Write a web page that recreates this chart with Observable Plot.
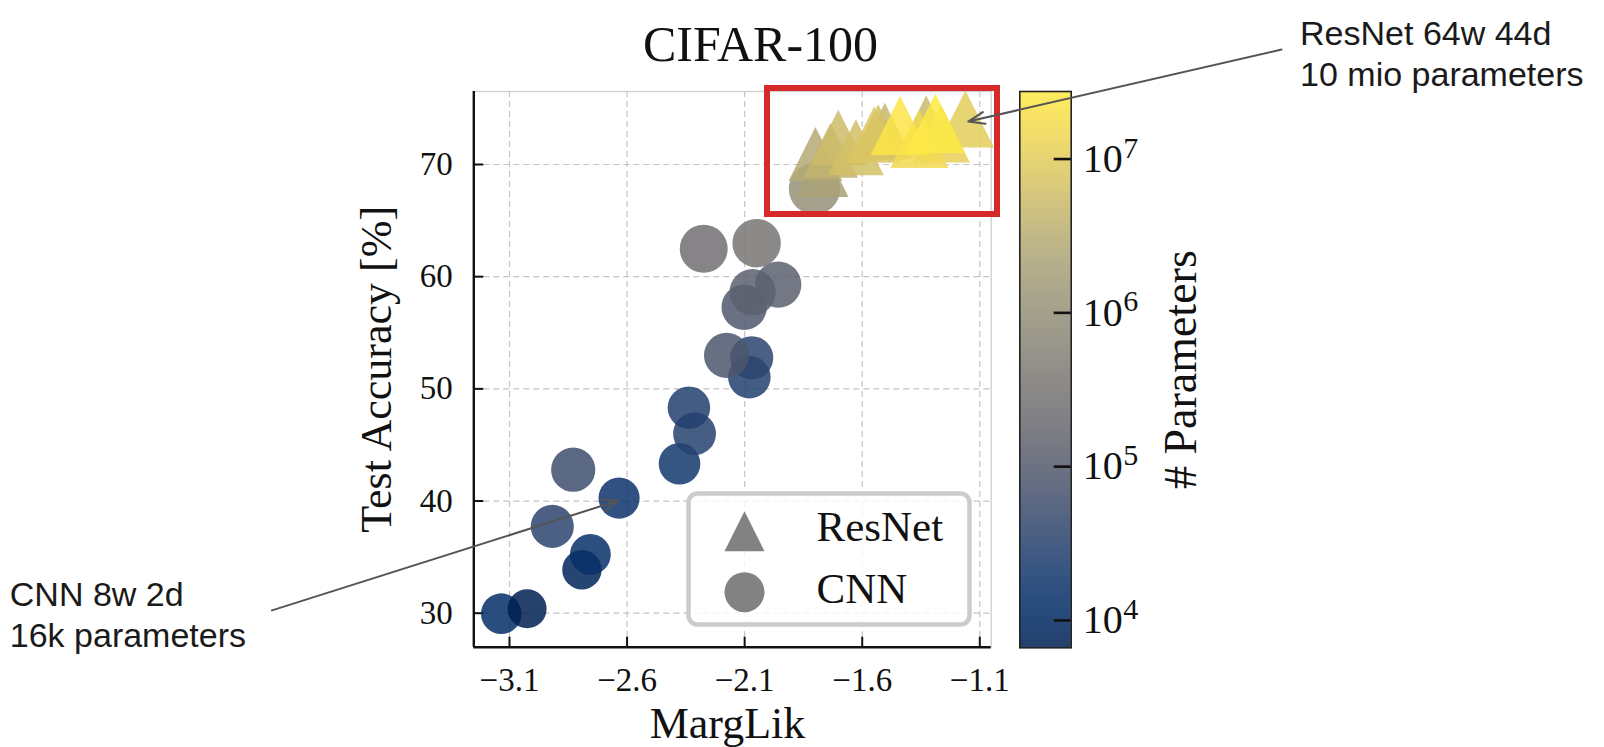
<!DOCTYPE html>
<html><head><meta charset="utf-8">
<script src="https://cdn.jsdelivr.net/npm/d3@7"></script>
<script src="https://cdn.jsdelivr.net/npm/@observablehq/plot@0.6"></script>
<style>
html,body{margin:0;padding:0;background:#fff;}
#wrap{position:relative;width:1604px;height:747px;overflow:hidden;background:#fff;}
#wrap svg{position:absolute;left:0;top:0;}
</style></head><body><div id="wrap"></div>
<script>
// ---- data ----
const cnnMargLik  = [-3.135,-3.025,-2.792,-2.756,-2.918,-2.634,-2.829,-2.377,-2.313,-2.337,-2.080,-2.070,-2.177,-2.102,-2.066,-1.957,-2.274,-2.049,-1.803];
const cnnAccuracy = [29.96,30.40,33.88,35.24,37.74,40.26,42.79,43.32,46.00,48.32,51.04,52.77,52.98,57.28,58.62,59.30,62.49,62.99,67.83];
const cnnParams   = [12600,6640,7900,14100,35500,16000,56200,19000,31600,28200,28200,35500,79400,89100,126000,126000,251000,316000,1000000];

const resnetMargLik  = [-1.771,-1.799,-1.735,-1.702,-1.627,-1.504,-1.532,-1.549,-1.328,-1.357,-1.264,-1.439,-1.289,-1.161];
const resnetAccuracy = [69.47,70.94,71.25,72.41,71.54,73.03,72.88,72.67,73.68,72.29,72.73,73.48,73.68,74.05];
const resnetParams   = [2000000,2800000,4000000,5600000,6300000,5000000,6300000,7900000,5000000,15800000,11200000,22400000,27500000,10000000];

const xTicks = [-3.1,-2.6,-2.1,-1.6,-1.1];
const yTicks = [30,40,50,60,70];
const cbTicks = [1e4,1e5,1e6,1e7];
const xDomain = [-3.2518,-1.0515];
const yDomain = [26.969,76.508];
const paramDomain = [6640,2.75e7];
const legendLabels = ["ResNet","CNN"];
const titleText = "CIFAR-100";
const xLabel = "MargLik";
const yLabel = "Test Accuracy [%]";
const cbLabel = "# Parameters";
const highlight = [{x1:-2.0028,x2:-1.0247,y1:65.543,y2:76.775}];
const callouts = [
  {text:"ResNet 64w 44d\n10 mio parameters", tx:0.262, ty:83.28, x1:0.183, y1:80.25, x2:-1.149, y2:73.83},
  {text:"CNN 8w 2d\n16k parameters", tx:-5.225, ty:33.28, x1:-4.110, y1:30.25, x2:-2.635, y2:40.05}
];

const cnn = cnnMargLik.map((x,i)=>({x, y:cnnAccuracy[i], p:cnnParams[i]}));
const resnet = resnetMargLik.map((x,i)=>({x, y:resnetAccuracy[i], p:resnetParams[i]}));

// matplotlib-like "^" marker: width = height = marker size
const mplTriangle = {draw(ctx, size){ const r=Math.sqrt(size/Math.PI); ctx.moveTo(0,-r); ctx.lineTo(r,r); ctx.lineTo(-r,r); ctx.closePath(); }};
const fmt = d => (d<0?"\u2212":"") + Math.abs(d).toFixed(1);
const serif = "'Liberation Serif','Times New Roman',serif";
const sans = "'Liberation Sans',Arial,sans-serif";
const alpha = 0.85;

const W=1604, H=747, mL=473.3, mR=613.3, mT=91, mB=100.3;
const fW=W-mL-mR, fH=H-mT-mB;
const colorOpts = {type:"log", scheme:"cividis", domain:paramDomain};

// ---- colorbar ----
const lo=Math.log10(paramDomain[0]), hi=Math.log10(paramDomain[1]), N=300;
const strips = d3.range(N).map(i=>{const a=lo+(hi-lo)*i/N, b=lo+(hi-lo)*(i+1.6)/N; return {y1:10**a, y2:10**Math.min(b,hi), v:10**(lo+(hi-lo)*(i+0.5)/N)};});
const cbL=1019.3, cbR=1070.7;
const cb = Plot.plot({
  width:W, height:H, marginLeft:cbL, marginRight:W-cbR, marginTop:91, marginBottom:H-647.3,
  style:{fontFamily:serif, background:"transparent", color:"#111", overflow:"visible"},
  x:{domain:[0,1], axis:null},
  y:{type:"log", domain:paramDomain, axis:null},
  color:colorOpts,
  marks:[
    Plot.rect(strips,{x1:0,x2:1,y1:"y1",y2:"y2",fill:"v"}),
    Plot.frame({stroke:"#222", strokeWidth:1.6}),
    Plot.tickY(cbTicks,{y:d=>d, insetLeft:(cbR-cbL)-17, stroke:"#111", strokeWidth:2.6}),
    Plot.text(cbTicks,{y:d=>d, text:()=>"10", frameAnchor:"right", textAnchor:"start", dx:11.5, fontSize:40, lineAnchor:"middle", fill:"#111"}),
    Plot.text(cbTicks,{y:d=>d, text:d=>String(Math.round(Math.log10(d))), frameAnchor:"right", textAnchor:"start", dx:52, dy:-11, fontSize:30, lineAnchor:"middle", fill:"#111"}),
    Plot.text([cbLabel],{frameAnchor:"right", textAnchor:"middle", rotate:-90, dx:110, fontSize:46, lineAnchor:"middle", fill:"#111"})
  ]
});
d3.select(cb).selectAll("g[aria-label=rect]").attr("opacity",alpha);

// ---- main plot ----
const main = Plot.plot({
  width:W, height:H, marginLeft:mL, marginRight:mR, marginTop:mT, marginBottom:mB,
  style:{fontFamily:serif, background:"transparent", color:"#111", overflow:"visible"},
  x:{domain:xDomain},
  y:{domain:yDomain},
  color:colorOpts,
  r:{type:"log", domain:[1e4,1e7], range:[20,28.5]},
  marks:[
    Plot.gridX(xTicks,{stroke:"#c4c4c4", strokeOpacity:1, strokeWidth:1.2, strokeDasharray:"6,4"}),
    Plot.gridY(yTicks,{stroke:"#c4c4c4", strokeOpacity:1, strokeWidth:1.2, strokeDasharray:"6,4"}),
    Plot.frame({stroke:"#cfcfcf", strokeWidth:1.3}),
    Plot.ruleX([xDomain[0]],{stroke:"#111", strokeWidth:2.4}),
    Plot.ruleY([yDomain[0]],{stroke:"#111", strokeWidth:2.4}),
    Plot.tickX(xTicks,{x:d=>d, insetTop:fH-10, stroke:"#111", strokeWidth:2}),
    Plot.tickY(yTicks,{y:d=>d, insetRight:fW-10, stroke:"#111", strokeWidth:2}),
    Plot.axisX({ticks:xTicks, tickSize:0, tickPadding:20, tickFormat:fmt, fontSize:33, label:null, fill:"#111"}),
    Plot.axisY({ticks:yTicks, tickSize:0, tickPadding:21, fontSize:33, label:null, fill:"#111"}),
    Plot.dot(cnn,{x:"x", y:"y", r:"p", fill:"p", fillOpacity:alpha, symbol:"circle", sort:null}),
    Plot.dot(resnet,{x:"x", y:"y", r:"p", fill:"p", fillOpacity:alpha, symbol:mplTriangle, sort:{channel:"r"}}),
    Plot.rect(highlight,{x1:"x1", x2:"x2", y1:"y1", y2:"y2", fill:"none", stroke:"#d62a2a", strokeWidth:6}),
    // legend
    Plot.frame({insetLeft:214.7, insetRight:21.7, insetTop:402, insetBottom:22.7, rx:9, fill:"white", fillOpacity:0.8, stroke:"#cccccc", strokeWidth:4.5}),
    Plot.dot([legendLabels[0]],{frameAnchor:"bottom-right", dx:-246.7, dy:-116, r:20, symbol:mplTriangle, fill:"#828282"}),
    Plot.dot([legendLabels[1]],{frameAnchor:"bottom-right", dx:-246.7, dy:-55, r:20, symbol:"circle", fill:"#828282"}),
    Plot.text([legendLabels[0]],{frameAnchor:"bottom-right", textAnchor:"start", dx:-174.7, dy:-120.1, fontSize:43, lineAnchor:"middle", fill:"#111"}),
    Plot.text([legendLabels[1]],{frameAnchor:"bottom-right", textAnchor:"start", dx:-174.7, dy:-58.4, fontSize:43, lineAnchor:"middle", fill:"#111"}),
    // labels
    Plot.text([titleText],{frameAnchor:"top", textAnchor:"middle", dx:28, dy:-47, fontSize:50, lineAnchor:"middle", fill:"#111"}),
    Plot.text([xLabel],{frameAnchor:"bottom", textAnchor:"middle", dx:-5, dy:77, fontSize:44, lineAnchor:"middle", fill:"#111"}),
    Plot.text([yLabel],{frameAnchor:"left", textAnchor:"middle", rotate:-90, dx:-97, fontSize:44, lineAnchor:"middle", fill:"#111"}),
    // callouts
    Plot.arrow(callouts,{x1:"x1", y1:"y1", x2:"x2", y2:"y2", stroke:"#555", strokeWidth:2, headLength:13, headAngle:40}),
    Plot.text(callouts,{x:"tx", y:"ty", text:"text", textAnchor:"start", lineAnchor:"top", lineHeight:1.22, fontSize:34, fontFamily:sans, fill:"#1a1a1a"})
  ]
});

const wrap = document.getElementById("wrap");
wrap.appendChild(cb);
wrap.appendChild(main);
</script></body></html>
